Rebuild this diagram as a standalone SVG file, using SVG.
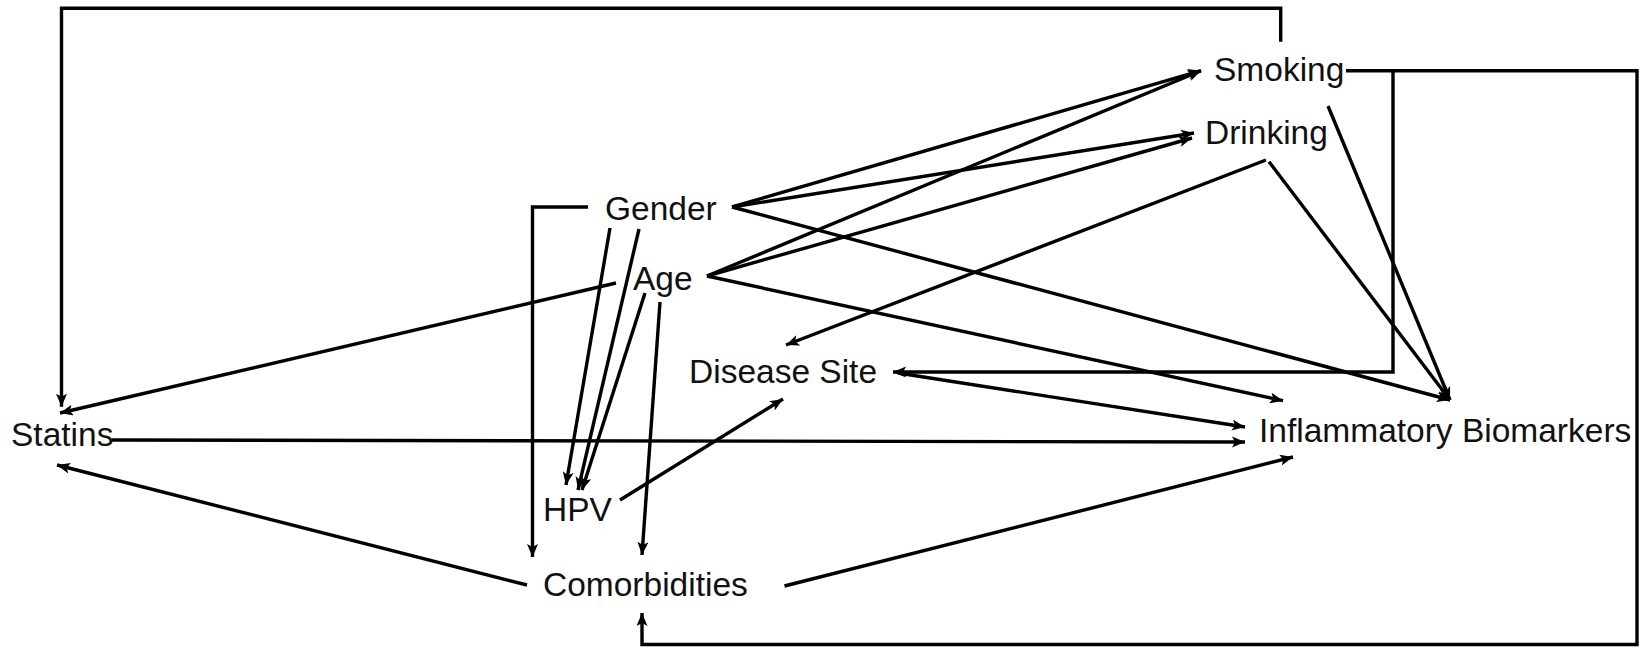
<svg xmlns="http://www.w3.org/2000/svg" width="1643" height="649" viewBox="0 0 1643 649">
<style>
.lbl{font-family:"Liberation Sans",Arial,sans-serif;font-size:33.5px;fill:#111;}
.c{fill:none;stroke:#000;stroke-width:3.4;stroke-linejoin:miter;}
.a{marker-end:url(#ah);}
</style>
<defs>
<marker id="ah" markerUnits="userSpaceOnUse" markerWidth="14" markerHeight="12" refX="13" refY="5.5" orient="auto">
<path d="M0,0 L13,5.5 L0,11 L3,5.5 z" fill="#000"/>
</marker>
</defs>
<rect width="1643" height="649" fill="#fff"/>
<g id="connectors">
<path class="c a" d="M1280.7,41.7 V8.3 H61.5 V406.7"/>
<path class="c a" d="M1346,70.7 H1637 V644.5 H642 V613"/>
<path class="c a" d="M1393,70.7 V372 H893"/>
<path class="c a" d="M588,207 H532.5 V557"/>
<path class="c a" d="M732,207 L1201,70.7"/>
<path class="c a" d="M732,207 L1194,133"/>
<path class="c a" d="M732,207 L1450,400"/>
<path class="c a" d="M610,228 L566,485"/>
<path class="c a" d="M639,229 L578,490"/>
<path class="c a" d="M645,293 L582,490"/>
<path class="c a" d="M660,302 L642,555"/>
<path class="c a" d="M616,283 L60,413"/>
<path class="c a" d="M707,276 L1201,70.7"/>
<path class="c a" d="M707,276 L1192,138"/>
<path class="c a" d="M707,276 L1283,400.7"/>
<path class="c a" d="M1266,160 L786,345"/>
<path class="c a" d="M1269,161.7 L1450,400"/>
<path class="c a" d="M1328,106 L1450,400"/>
<path class="c a" d="M898,373 L1245,427"/>
<path class="c a" d="M620,500 L783,399"/>
<path class="c a" d="M112,440 L1245,442"/>
<path class="c a" d="M527,585 L57,465"/>
<path class="c a" d="M784.5,586 L1293,457"/>
</g>
<g id="smoking"><text class="lbl" x="1214" y="81">Smoking</text></g>
<g id="drinking"><text class="lbl" x="1205" y="144">Drinking</text></g>
<g id="gender"><text class="lbl" x="605" y="220">Gender</text></g>
<g id="age"><text class="lbl" x="633" y="290">Age</text></g>
<g id="disease-site"><text class="lbl" x="689" y="383">Disease Site</text></g>
<g id="statins"><text class="lbl" x="11" y="446">Statins</text></g>
<g id="inflammatory-biomarkers"><text class="lbl" x="1259" y="441.5">Inflammatory Biomarkers</text></g>
<g id="hpv"><text class="lbl" x="543" y="521">HPV</text></g>
<g id="comorbidities"><text class="lbl" x="543" y="596">Comorbidities</text></g>
</svg>
